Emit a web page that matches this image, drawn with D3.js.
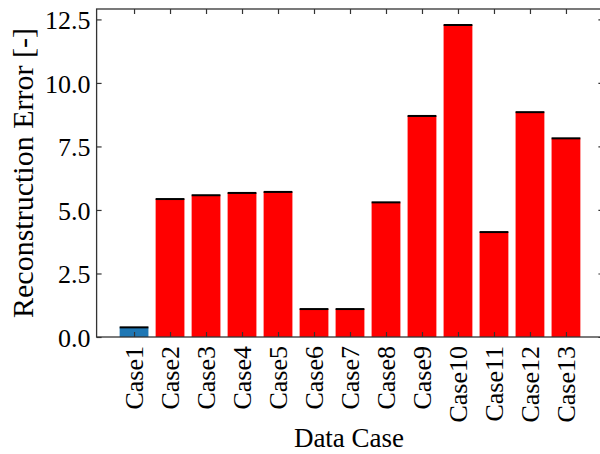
<!DOCTYPE html>
<html>
<head>
<meta charset="utf-8">
<script src="https://cdn.jsdelivr.net/npm/d3@7"></script>
<style>
  html, body { margin: 0; padding: 0; background: #fff; }
  svg { display: block; }
  text { font-family: "Liberation Serif", "Times New Roman", serif; fill: #000; }
</style>
</head>
<body>
<svg id="chart" width="600" height="454"></svg>
<script>
const categories = ["Case1","Case2","Case3","Case4","Case5","Case6","Case7","Case8","Case9","Case10","Case11","Case12","Case13"];
const values = [0.38, 5.43, 5.58, 5.67, 5.71, 1.10, 1.10, 5.30, 8.70, 12.28, 4.13, 8.85, 7.82];
const groups = ["reference","test","test","test","test","test","test","test","test","test","test","test","test"];
const yTicks = [0, 2.5, 5.0, 7.5, 10.0, 12.5];
const xLabel = "Data Case";
const yLabel = "Reconstruction Error [-]";

const svg = d3.select("#chart");
const pLeft = 96.6, pRight = 603.4, pTop = 9, pBottom = 337;

const x = d3.scaleLinear().domain([-1.04, 13.04]).range([pLeft, pRight]);
const y = d3.scaleLinear().domain([0, 12.91]).range([pBottom, pTop]);
const color = d3.scaleOrdinal().domain(["reference","test"]).range(["#1f77b4","#ff0000"]);
const barW = x(0.8) - x(0);

const data = categories.map((c, i) => ({c, i, v: values[i], g: groups[i]}));

svg.append("g").selectAll("rect").data(data).join("rect")
  .attr("x", d => x(d.i) - barW/2)
  .attr("width", barW)
  .attr("y", d => y(d.v))
  .attr("height", d => y(0) - y(d.v))
  .attr("fill", d => color(d.g));

svg.append("g").selectAll("line").data(data).join("line")
  .attr("x1", d => x(d.i) - barW/2)
  .attr("x2", d => x(d.i) + barW/2)
  .attr("y1", d => y(d.v))
  .attr("y2", d => y(d.v))
  .attr("stroke", "#000")
  .attr("stroke-width", 2);

const tickLen = 5;
const idx = d3.range(categories.length);
const axisColor = "#333";

// bottom axis (ticks inward)
const xb = svg.append("g").attr("transform", `translate(0,${pBottom})`)
  .call(d3.axisBottom(x).tickValues(idx).tickFormat(i => categories[i]).tickSizeInner(-tickLen).tickSizeOuter(0));
xb.select(".domain").remove();
xb.selectAll(".tick line").attr("stroke", axisColor).attr("stroke-width", 1.2);
xb.selectAll(".tick text")
  .attr("font-size", 26)
  .attr("font-family", "Liberation Serif")
  .attr("text-anchor", "end")
  .attr("transform", "rotate(-90)")
  .attr("x", -9)
  .attr("y", 0)
  .attr("dy", "0.33em");

// top axis
const xt = svg.append("g").attr("transform", `translate(0,${pTop})`)
  .call(d3.axisTop(x).tickValues(idx).tickFormat("").tickSizeInner(-tickLen).tickSizeOuter(0));
xt.select(".domain").remove();
xt.selectAll(".tick line").attr("stroke", axisColor).attr("stroke-width", 1.2);

// left axis
const yl = svg.append("g").attr("transform", `translate(${pLeft},0)`)
  .call(d3.axisLeft(y).tickValues(yTicks).tickFormat(d3.format(".1f")).tickSizeInner(-tickLen).tickSizeOuter(0).tickPadding(6));
yl.select(".domain").remove();
yl.selectAll(".tick line").attr("stroke", axisColor).attr("stroke-width", 1.2);
yl.selectAll(".tick text").attr("font-size", 26).attr("font-family", "Liberation Serif").attr("dy", "0.35em");

// right axis
const yr = svg.append("g").attr("transform", `translate(${pRight},0)`)
  .call(d3.axisRight(y).tickValues(yTicks).tickFormat("").tickSizeInner(-tickLen).tickSizeOuter(0));
yr.select(".domain").remove();
yr.selectAll(".tick line").attr("stroke", axisColor).attr("stroke-width", 1.2);

// frame
svg.append("rect")
  .attr("x", pLeft).attr("y", pTop)
  .attr("width", pRight - pLeft).attr("height", pBottom - pTop)
  .attr("fill", "none").attr("stroke", axisColor).attr("stroke-width", 1.3);

svg.append("text")
  .attr("x", (pLeft + pRight) / 2 - 1)
  .attr("y", 447)
  .attr("text-anchor", "middle")
  .attr("font-size", 27)
  .text(xLabel);

svg.append("text")
  .attr("transform", `translate(33,${(pTop + pBottom) / 2}) rotate(-90)`)
  .attr("text-anchor", "middle")
  .attr("font-size", 30)
  .text(yLabel);
</script>
</body>
</html>
